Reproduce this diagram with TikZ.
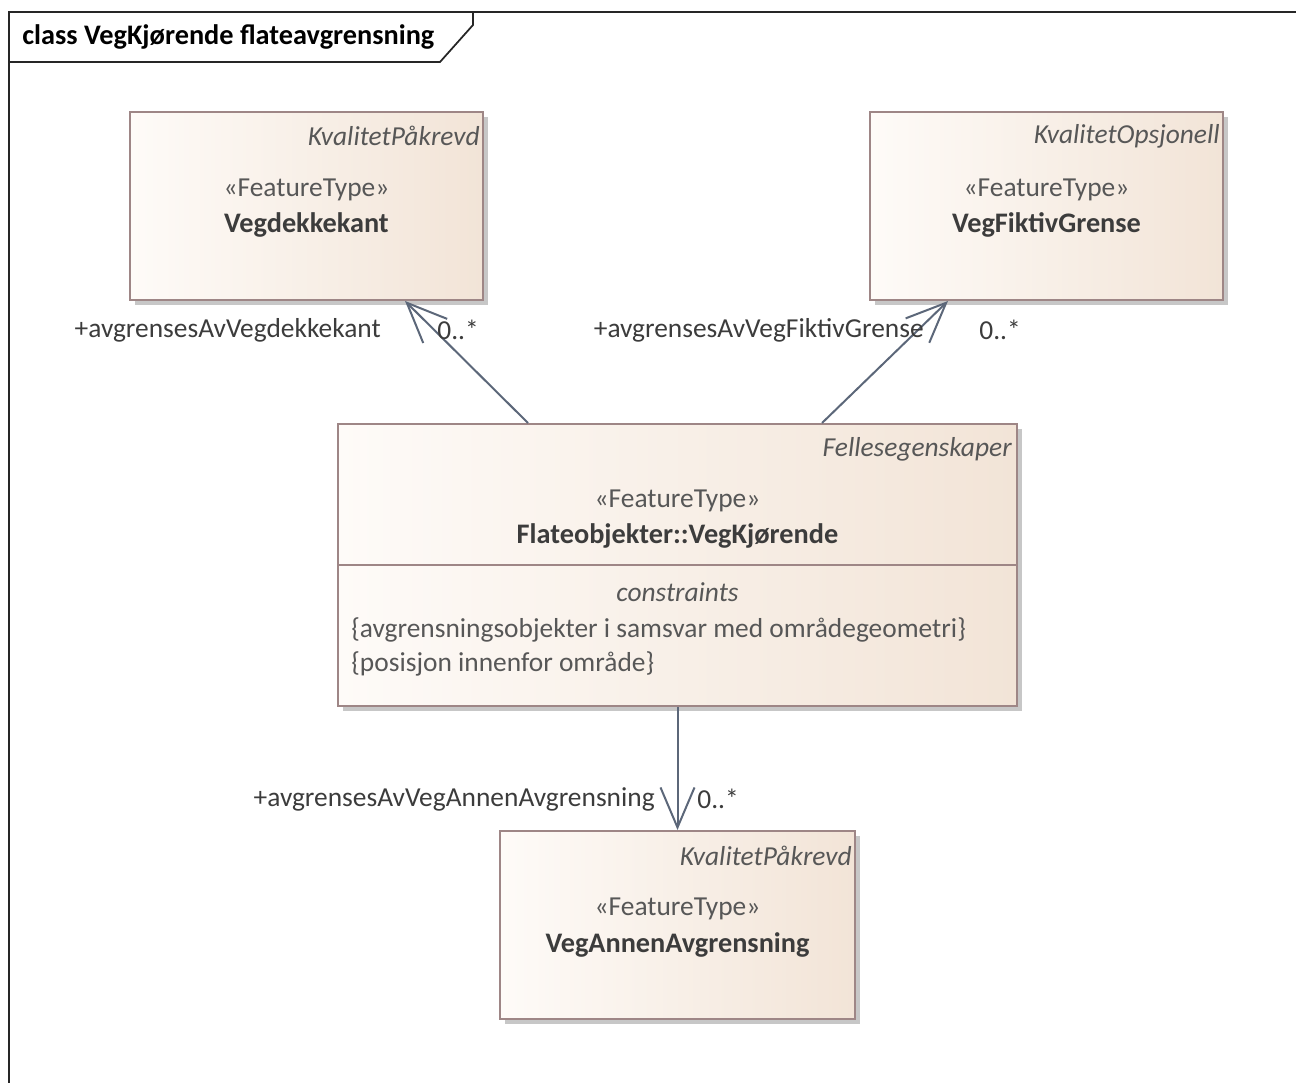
\documentclass[tikz,border=0pt]{standalone}
\usepackage{fontspec}
\setmainfont{Carlito}
\usepackage{tikz}
\usetikzlibrary{arrows.meta, shadows}
\definecolor{clsleft}{HTML}{FEFBF8}
\definecolor{clsright}{HTML}{F2E4D7}
\definecolor{clsborder}{HTML}{9E8686}
\definecolor{txtdark}{HTML}{3C3C3C}
\definecolor{txtgray}{HTML}{575757}
\definecolor{assoc}{HTML}{5C6779}
\newcommand{\umlsize}{\fontsize{15.6pt}{18pt}\selectfont}
\newcommand{\umlbold}{\fontsize{16.1pt}{19pt}\selectfont\bfseries}
\tikzstyle{cls} = [rectangle, draw=clsborder, line width=0.04cm, left color=clsleft, right color=clsright, inner sep=0pt, drop shadow={shadow xshift=0.1cm, shadow yshift=-0.1cm, fill=black!22, opacity=1}]
\tikzstyle{pkg} = [anchor=east, font=\umlsize\itshape, text=txtgray, inner sep=0pt]
\tikzstyle{stereo} = [font=\umlsize, text=txtgray, inner sep=0pt]
\tikzstyle{clsname} = [font=\umlbold, text=txtdark, inner sep=0pt]
\tikzstyle{rolelabel} = [font=\umlsize, text=txtdark, inner sep=0pt]
\tikzstyle{assocarrow} = [line width=0.04cm, draw=assoc, -{Straight Barb[length=0.8cm, width=0.68cm, line width=0.04cm]}]
\tikzstyle{frame} = [line width=0.035cm, draw=black!85]

\begin{document}
\begin{tikzpicture}[node distance=7.2cm]
  \useasboundingbox (0,0) rectangle (25.92,-21.66);

  % diagram frame and title tab
  \draw [frame] (0.18,-21.66) -- (0.18,-0.24) -- (25.92,-0.24);
  \draw [frame] (0.18,-1.24) -- (8.80,-1.24) -- (9.46,-0.50) -- (9.46,-0.24);
  \node (title) [anchor=west, font=\umlbold, text=black, inner sep=0pt] at (0.44,-0.74) {class VegKjørende flateavgrensning};

  % classes
  \node (kjor) [cls, minimum width=13.58cm, minimum height=5.64cm] at (13.55,-11.30) {};
  \node (annen) [cls, below of=kjor, minimum width=7.10cm, minimum height=3.76cm] {};
  \node (veg) [cls, above of=kjor, xshift=-7.42cm, yshift=-0.02cm, minimum width=7.06cm, minimum height=3.76cm] {};
  \node (fiktiv) [cls, right of=veg, node distance=14.8cm, minimum width=7.06cm, minimum height=3.76cm] {};

  \draw [line width=0.04cm, draw=clsborder] ([yshift=-2.84cm]kjor.north west) -- ([yshift=-2.84cm]kjor.north east);

  % class texts
  \node (vegpkg) [pkg] at ([xshift=-0.08cm, yshift=-0.50cm]veg.north east) {KvalitetPåkrevd};
  \node (vegst) [stereo] at ([yshift=-1.57cm]veg.north) {«FeatureType»};
  \node (vegname) [clsname] at ([yshift=-2.27cm]veg.north) {Vegdekkekant};

  \node (fiktivpkg) [pkg] at ([xshift=-0.08cm, yshift=-0.50cm]fiktiv.north east) {KvalitetOpsjonell};
  \node (fiktivst) [stereo] at ([yshift=-1.57cm]fiktiv.north) {«FeatureType»};
  \node (fiktivname) [clsname] at ([yshift=-2.27cm]fiktiv.north) {VegFiktivGrense};

  \node (kjorpkg) [pkg] at ([xshift=-0.12cm, yshift=-0.52cm]kjor.north east) {Fellesegenskaper};
  \node (kjorst) [stereo] at ([yshift=-1.56cm]kjor.north) {«FeatureType»};
  \node (kjorname) [clsname] at ([yshift=-2.26cm]kjor.north) {Flateobjekter::VegKjørende};
  \node (kjorcon) [stereo, font=\umlsize\itshape] at ([yshift=-3.38cm]kjor.north) {constraints};
  \node (kjorc1) [stereo, anchor=west] at ([xshift=0.28cm, yshift=-4.14cm]kjor.north west) {\{avgrensningsobjekter i samsvar med områdegeometri\}};
  \node (kjorc2) [stereo, anchor=west] at ([xshift=0.28cm, yshift=-4.82cm]kjor.north west) {\{posisjon innenfor område\}};

  \node (annenpkg) [pkg] at ([xshift=-0.08cm, yshift=-0.52cm]annen.north east) {KvalitetPåkrevd};
  \node (annenst) [stereo] at ([yshift=-1.58cm]annen.north) {«FeatureType»};
  \node (annenname) [clsname] at ([yshift=-2.30cm]annen.north) {VegAnnenAvgrensning};

  % associations
  \draw [assocarrow] ([xshift=-2.99cm]kjor.north) -- ([xshift=1.97cm]veg.south);
  \draw [assocarrow] ([xshift=2.89cm]kjor.north) -- ([xshift=-1.97cm]fiktiv.south);
  \draw [assocarrow] (kjor.south) -- (annen.north);

  % role names and multiplicities
  \node (vegrole) [rolelabel, anchor=east] at (7.62,-6.60) {+avgrensesAvVegdekkekant};
  \node (vegmult) [rolelabel, anchor=west] at (8.74,-6.60) {0..*};
  \node (fiktivrole) [rolelabel, anchor=east] at (18.48,-6.60) {+avgrensesAvVegFiktivGrense};
  \node (fiktivmult) [rolelabel, anchor=west] at (19.58,-6.60) {0..*};
  \node (annenrole) [rolelabel, anchor=east] at (13.10,-15.98) {+avgrensesAvVegAnnenAvgrensning};
  \node (annenmult) [rolelabel, anchor=west] at (13.94,-15.98) {0..*};
\end{tikzpicture}
\end{document}
